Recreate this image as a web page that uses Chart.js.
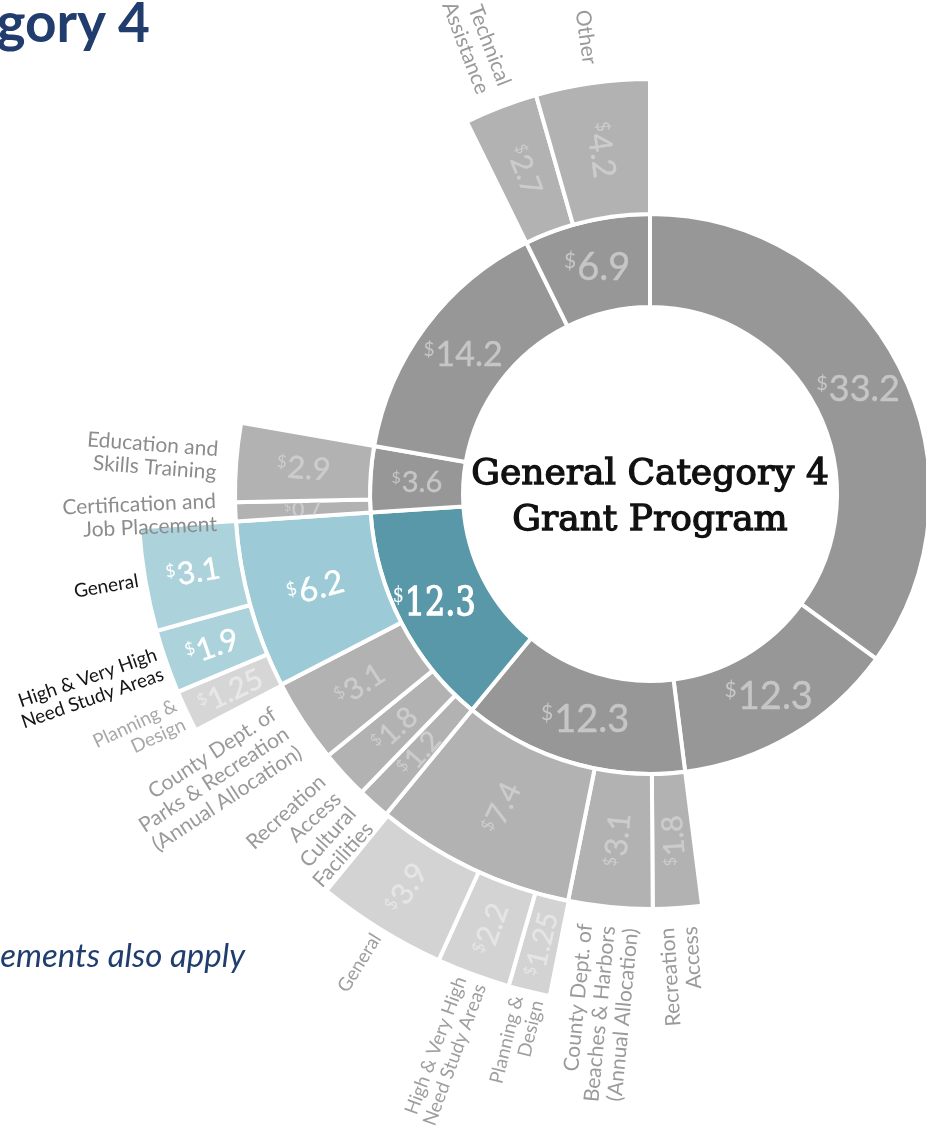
<!DOCTYPE html>
<html>
<head>
<meta charset="utf-8">
<title>General Category 4 Grant Program</title>
<script src="https://cdn.jsdelivr.net/npm/chart.js@4.4.1/dist/chart.umd.min.js"></script>
<style>
    html, body { margin: 0; padding: 0; background: #fff; }
    body { width: 926px; height: 1126px; position: relative; overflow: hidden; }
    #sunburst { position: absolute; left: -50px; top: -206px; }
    .page-text { position: absolute; color: #213d6e; font-family: Lato, sans-serif; white-space: nowrap; line-height: 1; z-index: 2; }
    #heading { right: 776px; top: -6px; font-size: 55px; font-weight: bold; }
    #note { right: 681px; top: 938px; font-size: 33px; font-style: italic; }
</style>
</head>
<body>
<div id="heading" class="page-text">gory 4</div>
<div id="note" class="page-text">ements also apply</div>
<canvas id="sunburst" width="1400" height="1400"></canvas>
<script>
// Data (millions of dollars)
const centreTitle = ['General Category 4', 'Grant Program'];

// inner ring, clockwise from 12 o'clock
const ring1Values = [33.2, 12.3, 12.3, 12.3, 3.6, 14.2, 6.9];

// middle ring - parent is the index in ring1Values
const ring2Values = [1.8, 3.1, 7.4, 1.2, 1.8, 3.1, 6.2, 0.7, 2.9, 2.7, 4.2];
const ring2Parent = [2, 2, 2, 3, 3, 3, 3, 4, 4, 6, 6];
const ring2Names = [
    'Recreation\nAccess',
    'County Dept. of\nBeaches & Harbors\n(Annual Allocation)',
    '',
    'Cultural\nFacilities',
    'Recreation\nAccess',
    'County Dept. of\nParks & Recreation\n(Annual Allocation)',
    '',
    'Certification and\nJob Placement',
    'Education and\nSkills Training',
    'Technical\nAssistance',
    'Other'
];

// outer ring - parent is the index in ring2Values
const ring3Values = [1.25, 2.2, 3.9, 1.25, 1.9, 3.1];
const ring3Parent = [2, 2, 2, 6, 6, 6];
const ring3Names = [
    'Planning &\nDesign',
    'High & Very High\nNeed Study Areas',
    'General',
    'Planning &\nDesign',
    'High & Very High\nNeed Study Areas',
    'General'
];

// Styles
const GREY1 = '#979797', GREY2 = '#b2b2b2', GREY3 = '#d3d3d3', TEAL = '#5898a9';
const ring1Colors = [GREY1, GREY1, GREY1, TEAL, GREY1, GREY1, GREY1];
const ring2Colors = [GREY2, GREY2, GREY2, GREY2, GREY2, GREY2, '#9ccad6', GREY2, GREY2, GREY2, GREY2];
const ring3Colors = [GREY3, GREY3, GREY3, '#d6d6d6', '#acd2db', '#acd2db'];
const valueInk = { '#979797': '#c6c6c6', '#b2b2b2': '#cccccc', '#d3d3d3': '#e5e5e5', '#d6d6d6': '#e8e8e8' };

const ring1ValueSize = [36, 38, 38, 38, 29, 34, 38];
const ring2ValueSize = [29, 31, 30, 28, 29, 30, 33, 21, 31, 29, 32];
const ring3ValueSize = [28, 30, 30, 29, 31, 31];
const ring2NameColors = ['#9a9a9a', '#9a9a9a', '', '#9a9a9a', '#9a9a9a', '#9a9a9a', '', '#8c8c8c', '#8c8c8c', '#9a9a9a', '#9a9a9a'];
const ring3NameColors = ['#9f9f9f', '#9f9f9f', '#9f9f9f', '#a8a8a8', '#141414', '#141414'];

const LATO = '"Lato", "Noto Sans", sans-serif';
const SLAB = '"DejaVu Serif", serif';

// split each ring into arcs, padding with empty arcs so children line up with parents
function buildRing(parents, values, parentOf) {
    const segs = [];
    parents.forEach(function(p) {
        let used = 0;
        values.forEach(function(v, i) {
            if (p.idx >= 0 && parentOf[i] === p.idx) {
                segs.push({ v: v, idx: i });
                used += v;
            }
        });
        if (used === 0 || p.v - used > 0.001) segs.push({ v: p.v - used, idx: -1 });
    });
    return segs;
}

const seg1 = ring1Values.map(function(v, i) { return { v: v, idx: i }; });
const seg2 = buildRing(seg1, ring2Values, ring2Parent);
const seg3 = buildRing(seg2, ring3Values, ring3Parent);

// dataset 0 is drawn outermost
const rings = [
    { segs: seg3, colors: ring3Colors, sizes: ring3ValueSize, names: ring3Names, nameColors: ring3NameColors, nameSize: 19, gap: 7, radial: true, weight: 97 },
    { segs: seg2, colors: ring2Colors, sizes: ring2ValueSize, names: ring2Names, nameColors: ring2NameColors, nameSize: 21, gap: 19, radial: true, weight: 135 },
    { segs: seg1, colors: ring1Colors, sizes: ring1ValueSize, names: null, radial: false, weight: 93 }
];

function drawValue(ctx, value, size, color, family, heavy) {
    const num = String(value);
    const small = Math.round(size * 0.56);
    ctx.font = small + 'px ' + family;
    const wd = ctx.measureText('$').width;
    ctx.font = size + 'px ' + family;
    const wn = ctx.measureText(num).width;
    const cap = size * 0.72;
    const left = -(wd + wn + 1) / 2;
    ctx.fillStyle = color;
    ctx.strokeStyle = color;
    ctx.lineWidth = heavy;
    ctx.textAlign = 'left';
    ctx.textBaseline = 'alphabetic';
    ctx.fillText(num, left + wd + 1, cap / 2);
    if (heavy) ctx.strokeText(num, left + wd + 1, cap / 2);
    ctx.font = small + 'px ' + family;
    ctx.fillText('$', left, -cap / 2 + small * 0.74);
}

const sunburstLabels = {
    id: 'sunburstLabels',
    afterDatasetsDraw: function(chart) {
        const ctx = chart.ctx;
        rings.forEach(function(ring, di) {
            const arcs = chart.getDatasetMeta(di).data;
            ring.segs.forEach(function(seg, i) {
                if (seg.idx < 0) return;
                const a = arcs[i].getProps(['x', 'y', 'startAngle', 'endAngle', 'innerRadius', 'outerRadius'], true);
                const mid = (a.startAngle + a.endAngle) / 2;
                const rMid = (a.innerRadius + a.outerRadius) / 2;
                const fill = ring.colors[seg.idx];

                // value, clipped to its own arc
                ctx.save();
                ctx.beginPath();
                ctx.arc(a.x, a.y, a.outerRadius - 2, a.startAngle + 2 / a.outerRadius, a.endAngle - 2 / a.outerRadius);
                ctx.arc(a.x, a.y, a.innerRadius + 2, a.endAngle - 2 / a.innerRadius, a.startAngle + 2 / a.innerRadius, true);
                ctx.closePath();
                ctx.clip();
                ctx.translate(a.x + rMid * Math.cos(mid), a.y + rMid * Math.sin(mid));
                if (ring.radial) ctx.rotate(mid + Math.PI);
                const ink = valueInk[fill] || '#ffffff';
                if (fill === TEAL) {
                    ctx.translate(-8, 0);
                    ctx.scale(0.84, 1.04);
                    drawValue(ctx, seg.v, ring.sizes[seg.idx], ink, SLAB, 1.3);
                } else {
                    drawValue(ctx, seg.v, ring.sizes[seg.idx], ink, LATO, 0.4);
                }
                ctx.restore();

                // category name outside the ring
                if (!ring.names || !ring.names[seg.idx]) return;
                const lines = ring.names[seg.idx].split('\n');
                const r = a.outerRadius + ring.gap;
                const lh = ring.nameSize * 1.1;
                ctx.save();
                ctx.translate(a.x + r * Math.cos(mid), a.y + r * Math.sin(mid));
                ctx.rotate(mid + Math.PI);
                ctx.font = ring.nameSize + 'px ' + LATO;
                ctx.fillStyle = ring.nameColors[seg.idx];
                ctx.textAlign = 'right';
                ctx.textBaseline = 'middle';
                lines.forEach(function(line, k) {
                    ctx.fillText(line, 0, (k - (lines.length - 1) / 2) * lh);
                });
                ctx.restore();
            });
        });

        // centre title
        const c = chart.getDatasetMeta(2).data[0];
        ctx.save();
        ctx.font = '36px ' + SLAB;
        ctx.fillStyle = '#111111';
        ctx.strokeStyle = '#111111';
        ctx.lineWidth = 1.3;
        ctx.textAlign = 'center';
        ctx.textBaseline = 'alphabetic';
        centreTitle.forEach(function(line, k) {
            const y = c.y - 10 + k * 46;
            ctx.fillText(line, c.x, y);
            ctx.strokeText(line, c.x, y);
        });
        ctx.restore();
    }
};

document.addEventListener('DOMContentLoaded', function() {
    const canvas = document.getElementById('sunburst');
    new Chart(canvas, {
        type: 'doughnut',
        data: {
            datasets: rings.map(function(ring) {
                return {
                    data: ring.segs.map(function(s) { return s.v; }),
                    backgroundColor: ring.segs.map(function(s) { return s.idx < 0 ? 'rgba(0,0,0,0)' : ring.colors[s.idx]; }),
                    borderColor: '#ffffff',
                    borderWidth: ring.segs.map(function(s) { return s.idx < 0 ? 0 : 4; }),
                    hoverBorderWidth: 4,
                    weight: ring.weight
                };
            })
        },
        options: {
            responsive: false,
            animation: false,
            events: [],
            radius: 512,
            cutout: (187 / 512 * 100) + '%',
            layout: { padding: 0 },
            plugins: {
                legend: { display: false },
                tooltip: { enabled: false }
            }
        },
        plugins: [sunburstLabels]
    });
});
</script>
</body>
</html>
